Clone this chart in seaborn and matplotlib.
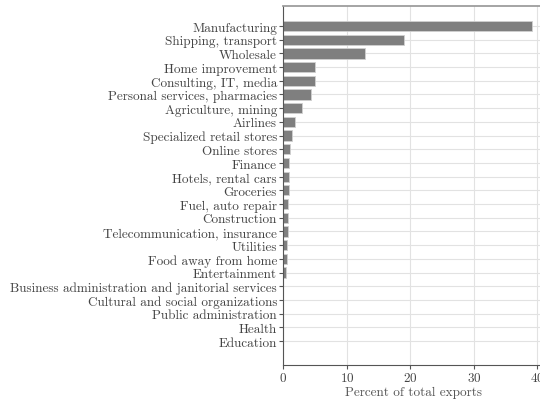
import matplotlib
matplotlib.use('Agg')
import matplotlib.pyplot as plt
import seaborn as sns
import pandas as pd

sectors = ['Manufacturing', 'Shipping, transport', 'Wholesale', 'Home improvement',
           'Consulting, IT, media', 'Personal services, pharmacies', 'Agriculture, mining',
           'Airlines', 'Specialized retail stores', 'Online stores', 'Finance',
           'Hotels, rental cars', 'Groceries', 'Fuel, auto repair', 'Construction',
           'Telecommunication, insurance', 'Utilities', 'Food away from home',
           'Entertainment', 'Business administration and janitorial services',
           'Cultural and social organizations', 'Public administration', 'Health',
           'Education']
share = [39.1, 19.0, 12.9, 5.05, 5.0, 4.35, 2.95, 1.85, 1.37, 1.05, 0.9,
         0.9, 0.85, 0.72, 0.7, 0.7, 0.63, 0.58, 0.42, 0.0, 0.0, 0.0, 0.0, 0.0]

df = pd.DataFrame({'sector': sectors, 'share': share})

sns.set_theme(style='whitegrid')
plt.rcParams['font.family'] = 'serif'
plt.rcParams['font.serif'] = ['cmr10']
plt.rcParams['axes.formatter.use_mathtext'] = True
plt.rcParams['axes.unicode_minus'] = False

fig = plt.figure(figsize=(5.4, 4.02), dpi=100)
ax = fig.add_axes([283.3 / 540, 36 / 402, 260.5 / 540, 359 / 402])

sns.barplot(data=df, x='share', y='sector', color='#7f7f7f', saturation=1,
            width=0.75, edgecolor='#d0d0d0', linewidth=0.6, ax=ax)

ax.set_xlim(0, 41)
ax.set_ylim(24.75, -1.46)
ax.set_xticks([0, 10, 20, 30, 40])
ax.set_xlabel('Percent of total exports', fontsize=9.5, color='#555555', labelpad=1.5)
ax.set_ylabel('')
ax.grid(True, color='#e2e2e2', linewidth=0.8)
ax.set_axisbelow(True)
for side in ['left', 'bottom']:
    ax.spines[side].set_color('#555555')
    ax.spines[side].set_linewidth(0.8)
ax.spines['top'].set_color('#999999')
ax.spines['right'].set_visible(False)
ax.tick_params(axis='both', which='both', length=3, width=0.8, color='#555555',
               labelsize=9.5, labelcolor='#444444', pad=1.5, left=True, bottom=True)

fig.savefig('out.png', dpi=100)
